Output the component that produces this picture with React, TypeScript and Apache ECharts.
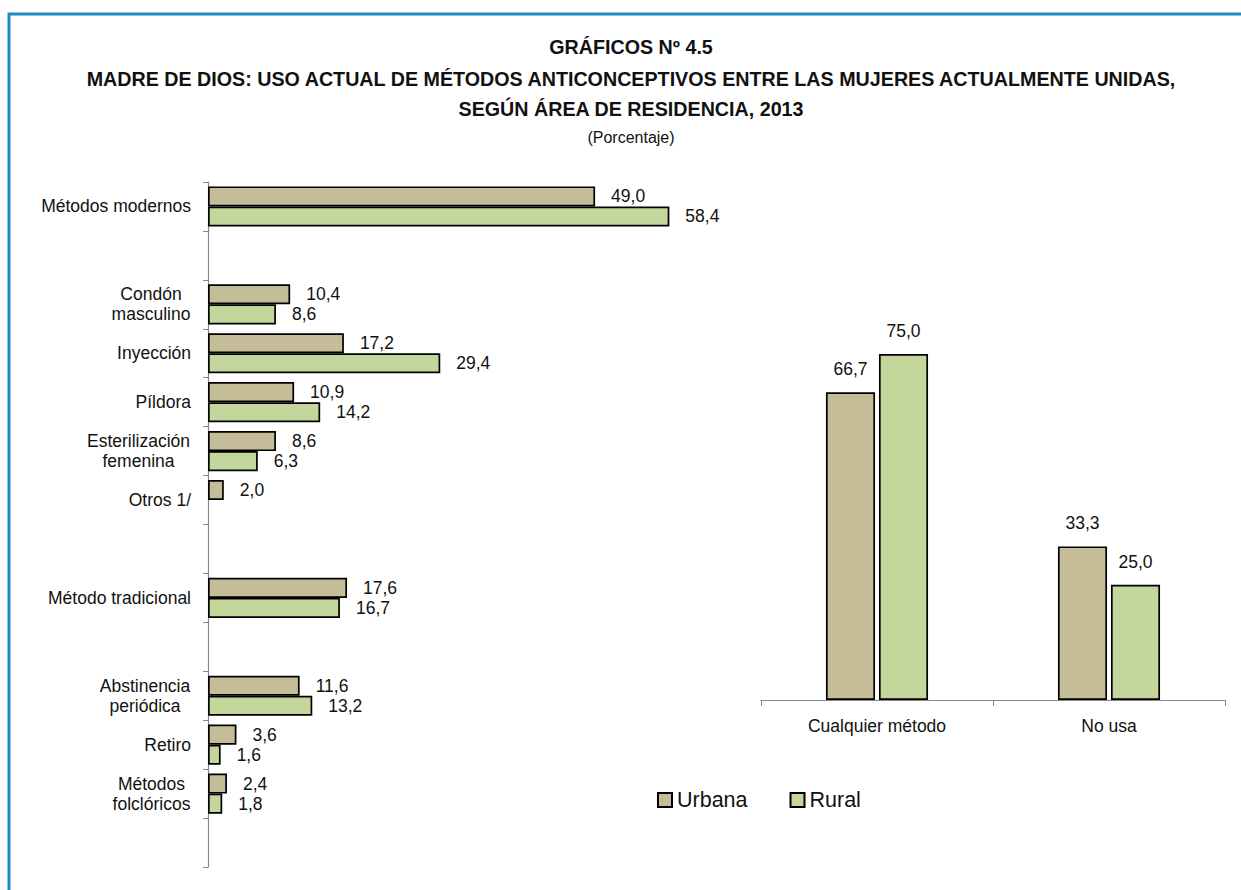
import React, { useEffect, useRef } from 'react';
import * as echarts from 'echarts';

const leftCategories = [
  'Métodos modernos',
  ' ',
  'Condón\nmasculino',
  'Inyección',
  'Píldora',
  'Esterilización\nfemenina',
  'Otros 1/',
  '  ',
  'Método tradicional',
  '   ',
  'Abstinencia\nperiódica',
  'Retiro',
  'Métodos\nfolclóricos',
  '    ',
];
const leftUrbana = [49.0, null, 10.4, 17.2, 10.9, 8.6, 2.0, null, 17.6, null, 11.6, 3.6, 2.4, null];
const leftRural = [58.4, null, 8.6, 29.4, 14.2, 6.3, null, null, 16.7, null, 13.2, 1.6, 1.8, null];

const rightCategories = ['Cualquier método', 'No usa'];
const rightUrbana = [66.7, 33.3];
const rightRural = [75.0, 25.0];

const seriesNames = ['Urbana', 'Rural'];

const titleLines = [
  'GRÁFICOS Nº 4.5',
  'MADRE DE DIOS: USO ACTUAL DE MÉTODOS ANTICONCEPTIVOS ENTRE LAS MUJERES ACTUALMENTE UNIDAS,',
  'SEGÚN ÁREA DE RESIDENCIA, 2013',
  '(Porcentaje)',
];

const FONT = '"Liberation Sans", Arial, sans-serif';
const LABEL_SIZE = 17.5;
const TEXT_COLOR = '#111';
const URBANA_COLOR = '#C4BD97';
const RURAL_COLOR = '#C3D69B';
const AXIS_COLOR = '#888888';

const fmt = (v: number | null) => (v == null ? '' : v.toFixed(1).replace('.', ','));

function measure(t: string): number {
  const c = document.createElement('canvas').getContext('2d');
  if (!c) return t.length * 8;
  c.font = `${LABEL_SIZE}px ${FONT}`;
  return c.measureText(t).width;
}

export default function App() {
  const ref = useRef<HTMLDivElement>(null);

  useEffect(() => {
    if (!ref.current) return;
    const chart = echarts.init(ref.current, undefined, { renderer: 'svg' });

    const rich: Record<string, any> = {};
    leftCategories.forEach((c, i) => {
      if (c.includes('\n')) {
        const w = Math.ceil(Math.max(...c.split('\n').map(measure))) + 1;
        rich['m' + i] = {
          width: w,
          align: 'center',
          fontSize: LABEL_SIZE,
          fontFamily: FONT,
          color: TEXT_COLOR,
          lineHeight: 20,
        };
      }
    });

    const barItem = (color: string) => ({ color, borderColor: '#000', borderWidth: 1.7 });

    const valueLabel = (position: string, distance: number) => ({
      show: true,
      position,
      distance,
      fontSize: LABEL_SIZE,
      fontFamily: FONT,
      color: TEXT_COLOR,
      formatter: (p: any) => fmt(p.value),
    });

    const option: any = {
      animation: false,
      backgroundColor: '#fff',
      textStyle: { fontFamily: FONT },
      graphic: [
        {
          type: 'rect',
          silent: true,
          z: -10,
          shape: { x: 9, y: 14, width: 1400, height: 1000 },
          style: { fill: 'none', stroke: '#1B8BC4', lineWidth: 3 },
        },
        ...titleLines.map((t, i) => ({
          type: 'text',
          silent: true,
          x: 631,
          y: [47, 79, 109, 137][i],
          style: {
            text: t,
            fontFamily: FONT,
            fontSize: i === 3 ? 16 : 19.7,
            fontWeight: i === 3 ? 'normal' : 'bold',
            fill: TEXT_COLOR,
            align: 'center',
            verticalAlign: 'middle',
          },
        })),
      ],
      legend: {
        data: seriesNames,
        left: 657,
        top: 789,
        padding: 0,
        itemWidth: 14,
        itemHeight: 14,
        itemGap: 42,
        icon: 'rect',
        textStyle: { fontSize: 21.5, fontFamily: FONT, color: TEXT_COLOR },
      },
      grid: [
        { left: 208, top: 182, width: 553, height: 685, containLabel: false },
        { left: 761, top: 331, width: 464, height: 369, containLabel: false },
      ],
      xAxis: [
        {
          gridIndex: 0,
          type: 'value',
          min: 0,
          max: 70,
          show: false,
          splitLine: { show: false },
        },
        {
          gridIndex: 1,
          type: 'category',
          data: rightCategories,
          axisLine: { lineStyle: { color: AXIS_COLOR, width: 1.2 } },
          axisTick: { show: true, length: 6, lineStyle: { color: AXIS_COLOR } },
          axisLabel: { fontSize: LABEL_SIZE, fontFamily: FONT, color: TEXT_COLOR, margin: 17 },
        },
      ],
      yAxis: [
        {
          gridIndex: 0,
          type: 'category',
          inverse: true,
          data: leftCategories,
          axisLine: { lineStyle: { color: AXIS_COLOR, width: 1.2 } },
          axisTick: { show: true, length: 5, lineStyle: { color: AXIS_COLOR } },
          axisLabel: {
            fontSize: LABEL_SIZE,
            fontFamily: FONT,
            color: TEXT_COLOR,
            margin: 17,
            interval: 0,
            lineHeight: 20,
            rich,
            formatter: (v: string, i: number) =>
              v.includes('\n') ? v.split('\n').map((l) => `{m${i}|${l}}`).join('\n') : v,
          },
        },
        {
          gridIndex: 1,
          type: 'value',
          min: 0,
          max: 80,
          show: false,
          splitLine: { show: false },
        },
      ],
      series: [
        {
          name: seriesNames[0],
          type: 'bar',
          xAxisIndex: 0,
          yAxisIndex: 0,
          data: leftUrbana,
          barCategoryGap: '18%',
          barGap: '0%',
          itemStyle: barItem(URBANA_COLOR),
          label: valueLabel('right', 16),
        },
        {
          name: seriesNames[1],
          type: 'bar',
          xAxisIndex: 0,
          yAxisIndex: 0,
          data: leftRural,
          barCategoryGap: '18%',
          barGap: '0%',
          itemStyle: barItem(RURAL_COLOR),
          label: valueLabel('right', 16),
        },
        {
          name: seriesNames[0],
          type: 'bar',
          xAxisIndex: 1,
          yAxisIndex: 1,
          data: rightUrbana,
          barCategoryGap: '56%',
          barGap: '8%',
          itemStyle: barItem(URBANA_COLOR),
          label: valueLabel('top', 14),
        },
        {
          name: seriesNames[1],
          type: 'bar',
          xAxisIndex: 1,
          yAxisIndex: 1,
          data: rightRural,
          barCategoryGap: '56%',
          barGap: '8%',
          itemStyle: barItem(RURAL_COLOR),
          label: valueLabel('top', 14),
        },
      ],
    };

    chart.setOption(option);
    return () => chart.dispose();
  }, []);

  return (
    <div
      ref={ref}
      style={{ position: 'fixed', left: 0, top: 0, width: 1241, height: 890, background: '#fff' }}
    />
  );
}
